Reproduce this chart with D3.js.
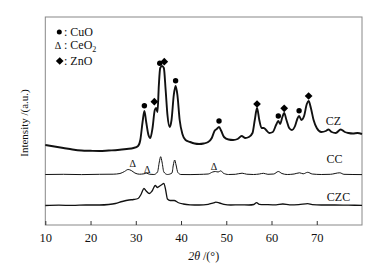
<!DOCTYPE html>
<html>
<head>
<meta charset="utf-8">
<script src="https://cdn.jsdelivr.net/npm/d3@7"></script>
<style>
  body { margin: 0; background: #fff; }
  text { font-family: "Liberation Serif", "Times New Roman", serif; fill: #111; }
</style>
</head>
<body>
<svg width="390" height="269"></svg>
<script>
// 2theta (deg), intensity (a.u., offset stacked)
var czData = [[10,80],[12,78.5],[14,77],[16,75.5],[18,74.5],[20,74.2],[22,74],[24,74.5],[26,75],[28,76],[29.5,77],[30.5,79],
  [31,85],[31.5,103],[31.9,114],[32.3,103],[32.8,90],[33.2,87],[33.7,97],[34.2,115],[34.5,117],[34.8,113],[35.1,140],
  [35.4,157],[35.8,159],[36.2,157],[36.6,135],[37,110],[37.5,98],[37.9,105],[38.4,130],[38.8,139],[39.2,130],[39.7,105],
  [40.3,91],[41,85],[42,83],[43,81.5],[44,81],[45,81.5],[46,83],[46.8,87],[47.4,94],[47.9,96],[48.4,98],[48.9,94],[49.5,88],
  [50.5,85.5],[51.5,85],[52.5,86],[53.4,89],[54.2,87],[55,88],[55.8,92],[56.3,105],[56.8,117],[57.3,105],[57.8,97],[58.3,97],
  [58.8,95],[59.5,92],[60.3,93],[61,100],[61.5,104],[61.9,101],[62.4,108],[62.8,112],[63.3,105],[63.9,97],[64.5,95],[65.2,99],
  [65.7,106],[66.1,109],[66.6,105],[67.2,109],[67.8,121],[68.2,124],[68.7,117],[69.3,105],[70,97],[71,93],[72,94],[72.6,95.5],
  [73.3,93],[74.2,92],[75.3,95.5],[76.2,93],[77,92],[78,91.5],[79,92],[80,91]];

var ccData = [[10,50.5],[14,50.7],[18,50.4],[22,50.7],[25,50.8],[26.5,51.5],[27.5,53.5],[28.3,55.5],[29,54.5],[29.8,52],
  [30.8,50.8],[31.8,51.2],[32.4,51.8],[33,50.8],[34,50.5],[34.8,53],[35.2,63],[35.5,68.3],[35.8,63],[36.2,53],[37,50.5],
  [38,52],[38.3,60],[38.6,65],[38.9,60],[39.3,52.5],[40,50.5],[42,50.4],[44,50.6],[46,51],[47,53],[47.6,53.5],[48.2,53],
  [48.8,54.2],[49.3,52],[50.5,50.5],[52,50.7],[53.5,51.8],[54.5,50.8],[56,50.5],[57.3,51],[58.2,51.7],[59.2,50.7],[60.5,51],
  [61.5,53.5],[62.3,51.5],[63.5,50.5],[65,51],[66.2,52.2],[67,51.2],[68,52.7],[69,51],[71,50.5],[73,50.7],[75.1,52.2],
  [76,50.7],[78,50.5],[80,50.4]];

var czcData = [[10,19.5],[13,19.8],[16,19.6],[19,20],[22,20],[24,20.5],[25.5,21.5],[27,23.5],[28.5,25],[29.5,25.5],[30.5,26.5],
  [31.2,31],[31.8,36.5],[32.3,34],[33,31.5],[33.6,34],[34.3,39.5],[34.8,37.5],[35.3,39],[35.8,40.5],[36.2,41.7],[36.6,35],
  [37,26],[37.6,24.5],[38.5,24.5],[39.3,22.5],[40.5,21],[42,20.2],[44,20],[46,20.7],[47.2,22.2],[47.7,22.8],[48.5,22],
  [49.5,20.7],[51,20],[53,20.2],[55,20],[56.1,20.5],[56.7,22.4],[57.3,20.7],[59,20.4],[61,20.2],[62.5,21],[64,20.2],
  [66,20.4],[68,21.4],[69,20.4],[71,20],[74,20],[77,19.8],[80,19.7]];

// phase markers: [2theta, intensity]
var cuoMarks = [[31.9,119.3],[35.3,161.7],[38.8,144.3],[48.4,104],[61.5,109],[66.1,114.3]];
var znoMarks = [[34.1,123.3],[36.3,163.3],[56.8,121],[62.8,116.7],[68.2,129]];
var ceoMarks = [[29.3,61.7],[32.5,55.7],[47.3,59]];

var seriesNames = ["CZ", "CC", "CZC"];
var seriesLabelPos = [[73.7,100], [73.9,62], [74.8,24]];
var xTicks = [10, 20, 30, 40, 50, 60, 70];

var svg = d3.select("svg");
var plotL = 45.3, plotR = 362, plotT = 17, plotB = 225;

var x = d3.scaleLinear().domain([10, 80]).range([plotL, plotR]);
var y = d3.scaleLinear().domain([0, 208]).range([plotB, plotT]);

var line = d3.line()
  .x(function(d) { return x(d[0]); })
  .y(function(d) { return y(d[1]); })
  .curve(d3.curveMonotoneX);

svg.append("rect")
  .attr("x", plotL).attr("y", plotT)
  .attr("width", plotR - plotL).attr("height", plotB - plotT)
  .attr("fill", "none").attr("stroke", "#888").attr("stroke-width", 1);

var xAxis = d3.axisBottom(x).tickValues(xTicks).tickSize(-4).tickPadding(8);
var ax = svg.append("g").attr("transform", "translate(0," + plotB + ")").call(xAxis);
ax.select(".domain").remove();
ax.selectAll(".tick line").attr("stroke", "#333");
ax.selectAll(".tick text")
  .style("font-family", "Liberation Serif, Times New Roman, serif")
  .style("font-size", "12.5px").attr("fill", "#111");

[[czData, 1.9], [ccData, 1], [czcData, 1.3]].forEach(function(s) {
  svg.append("path").datum(s[0])
    .attr("d", line).attr("fill", "none")
    .attr("stroke", "#111").attr("stroke-width", s[1])
    .attr("stroke-linejoin", "round");
});

svg.selectAll(".cuo").data(cuoMarks).enter().append("circle")
  .attr("cx", function(d) { return x(d[0]); })
  .attr("cy", function(d) { return y(d[1]); })
  .attr("r", 2.7).attr("fill", "#000");

var diamond = d3.symbol().type(d3.symbolDiamond2).size(38);
svg.selectAll(".zno").data(znoMarks).enter().append("path")
  .attr("d", diamond)
  .attr("transform", function(d) { return "translate(" + x(d[0]) + "," + y(d[1]) + ")"; })
  .attr("fill", "#000");

svg.selectAll(".ceo").data(ceoMarks).enter().append("text")
  .attr("x", function(d) { return x(d[0]); })
  .attr("y", function(d) { return y(d[1]) + 3.5; })
  .attr("text-anchor", "middle").style("font-size", "10px")
  .text("\u0394");

svg.selectAll(".slabel").data(seriesNames).enter().append("text")
  .attr("x", function(d, i) { return x(seriesLabelPos[i][0]); })
  .attr("y", function(d, i) { return y(seriesLabelPos[i][1]); })
  .attr("text-anchor", "middle").style("font-size", "12px")
  .text(function(d) { return d; });

// legend
svg.append("circle").attr("cx", 59.3).attr("cy", 32).attr("r", 2.5).attr("fill", "#000");
svg.append("text").attr("x", 64).attr("y", 36).style("font-size", "12px").text(": CuO");
svg.append("text").attr("x", 58).attr("y", 49).attr("text-anchor", "middle").style("font-size", "10px").text("\u0394");
var ceT = svg.append("text").attr("x", 64).attr("y", 49).style("font-size", "12px");
ceT.append("tspan").text(": CeO");
ceT.append("tspan").attr("dy", 3).style("font-size", "8px").text("2");
svg.append("path").attr("d", diamond).attr("transform", "translate(59.7,61)").attr("fill", "#000");
svg.append("text").attr("x", 64).attr("y", 65).style("font-size", "12px").text(": ZnO");

// axis titles
var xt = svg.append("text").attr("x", (plotL + plotR) / 2).attr("y", 260)
  .attr("text-anchor", "middle").style("font-size", "12px");
xt.append("tspan").style("font-style", "italic").text("2\u03b8");
xt.append("tspan").text(" /(\u00b0)");

svg.append("text")
  .attr("transform", "translate(28,123) rotate(-90)")
  .attr("text-anchor", "middle").style("font-size", "11px")
  .text("Intensity /(a.u.)");
</script>
</body>
</html>
